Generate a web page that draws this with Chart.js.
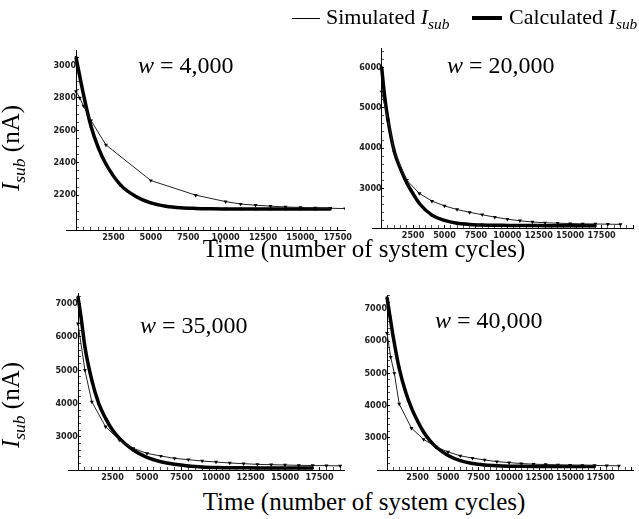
<!DOCTYPE html>
<html lang="en">
<head>
<meta charset="UTF-8">
<title>Isub vs time</title>
<script src="https://cdn.jsdelivr.net/npm/chart.js@4.4.0/dist/chart.umd.min.js"></script>
<style>
  body { margin: 0; background: #fff; }
  #fig { position: relative; width: 639px; height: 519px; overflow: hidden;
         font-family: "Liberation Serif", "Times New Roman", serif; color: #000; }
  #fig canvas { position: absolute; }
  .txt { position: absolute; white-space: nowrap; line-height: 24px; font-size: 24px; }
  .leg { position: absolute; white-space: nowrap; font-size: 22px; line-height: 22px; }
  .ylab { position: absolute; white-space: nowrap; font-size: 25px; line-height: 25px;
          transform: translate(-50%, -50%) rotate(-90deg); }
  .xlab { position: absolute; white-space: nowrap; font-size: 25px; line-height: 25px;
          transform: translateX(-50%); }
  i sub { font-size: 70%; }
</style>
</head>
<body>
<div id="fig">
  <canvas id="c1"></canvas>
  <canvas id="c2"></canvas>
  <canvas id="c3"></canvas>
  <canvas id="c4"></canvas>

  <div style="position:absolute;left:292px;top:18px;width:28px;height:1px;background:#000"></div>
  <div class="leg" style="left:326px;top:6px">Simulated <i>I<sub>sub</sub></i></div>
  <div style="position:absolute;left:472px;top:16px;width:30px;height:4px;background:#000"></div>
  <div class="leg" style="left:509px;top:6px">Calculated <i>I<sub>sub</sub></i></div>

  <div class="txt" style="left:138px;top:53px"><i>w</i> = 4,000</div>
  <div class="txt" style="left:447px;top:53px"><i>w</i> = 20,000</div>
  <div class="txt" style="left:140px;top:313px"><i>w</i> = 35,000</div>
  <div class="txt" style="left:435px;top:308px"><i>w</i> = 40,000</div>

  <div class="ylab" style="left:15px;top:148px"><i>I<sub>sub</sub></i> (nA)</div>
  <div class="ylab" style="left:15px;top:405px"><i>I<sub>sub</sub></i> (nA)</div>
  <div class="xlab" style="left:364px;top:236px">Time (number of system cycles)</div>
  <div class="xlab" style="left:364px;top:489px">Time (number of system cycles)</div>
</div>

<script>
// w = 4,000
const simX1 = [0, 250, 500, 1000, 2000, 5000, 8000, 10000, 11000, 12000, 13000, 14000, 15000, 16000, 17000, 18000];
const simY1 = [2840, 2800, 2750, 2660, 2510, 2290, 2200, 2160, 2145, 2138, 2132, 2127, 2124, 2121, 2119, 2117];
const calcX1 = [0, 500, 1000, 1500, 2000, 3000, 4000, 5000, 6000, 7000, 8000, 9000, 10000, 11000, 12000, 13000, 14000, 15000, 16000, 17000];
const calcY1 = [3050, 2820, 2625, 2490, 2392, 2260, 2192, 2152, 2132, 2122, 2118, 2116, 2115, 2115, 2114, 2114, 2114, 2114, 2114, 2114];

// w = 20,000
const simX2 = [0, 500, 1000, 2000, 3000, 4000, 5000, 6000, 7000, 8000, 9000, 10000, 11000, 12000, 13000, 14000, 15000, 16000, 17000, 18000, 19000];
const simY2 = [5400, 4700, 3900, 3200, 2870, 2680, 2560, 2470, 2400, 2340, 2280, 2230, 2190, 2160, 2140, 2130, 2120, 2115, 2110, 2105, 2100];
const calcX2 = [0, 250, 500, 1000, 1500, 2000, 2500, 3000, 4000, 5000, 6000, 7000, 8000, 9000, 10000, 11000, 12000, 13000, 14000, 15000, 16000, 17000];
const calcY2 = [6000, 5250, 4700, 3920, 3480, 3130, 2860, 2620, 2330, 2200, 2130, 2100, 2085, 2078, 2075, 2072, 2070, 2069, 2068, 2066, 2065, 2065];

// w = 35,000
const simX3 = [0, 500, 1000, 2000, 3000, 4000, 5000, 6000, 7000, 8000, 9000, 10000, 11000, 12000, 13000, 14000, 15000, 16000, 17000, 18000, 19000];
const simY3 = [6400, 5000, 4050, 3300, 2900, 2650, 2500, 2420, 2350, 2310, 2270, 2240, 2210, 2190, 2170, 2160, 2150, 2140, 2135, 2130, 2125];
const calcX3 = [0, 250, 500, 1000, 1500, 2000, 2500, 3000, 4000, 5000, 6000, 7000, 8000, 9000, 10000, 11000, 12000, 13000, 14000, 15000, 16000, 17000];
const calcY3 = [7200, 6500, 5700, 4700, 4000, 3550, 3200, 2950, 2600, 2380, 2250, 2170, 2120, 2090, 2075, 2068, 2065, 2062, 2060, 2059, 2058, 2058];

// w = 40,000
const simX4 = [0, 300, 600, 1000, 2000, 3000, 4000, 5000, 6000, 7000, 8000, 9000, 10000, 11000, 12000, 13000, 14000, 15000, 16000, 17000, 18000, 19000];
const simY4 = [6250, 5500, 5000, 4050, 3300, 2950, 2720, 2560, 2440, 2370, 2310, 2260, 2230, 2200, 2180, 2170, 2160, 2150, 2145, 2140, 2135, 2130];
const calcX4 = [0, 250, 500, 1000, 1500, 2000, 2500, 3000, 3500, 4000, 5000, 6000, 7000, 8000, 9000, 10000, 11000, 12000, 13000, 14000, 15000, 16000, 17000];
const calcY4 = [7350, 6750, 6150, 5150, 4450, 3930, 3520, 3180, 2920, 2720, 2450, 2290, 2200, 2155, 2132, 2120, 2115, 2112, 2111, 2110, 2109, 2108, 2108];

const xLabels = [2500, 5000, 7500, 10000, 12500, 15000, 17500];

const tickFont = { family: '"DejaVu Sans Condensed", "Liberation Sans Narrow", "DejaVu Sans", sans-serif', size: 9, weight: 'bold' };

function pts(xs, ys) {
  return xs.map((x, i) => ({ x: x, y: ys[i] }));
}

function stepTicks(min, max, step) {
  const out = [];
  for (let v = Math.ceil(min / step) * step; v <= max; v += step) out.push({ value: v });
  return out;
}

// p: chart area in page pixels + axis ranges
function panel(id, p) {
  const padL = 45, padT = 5, padR = 12, xh = 18;
  const el = document.getElementById(id);
  el.style.left = (p.L - padL) + 'px';
  el.style.top = (p.T - padT) + 'px';
  el.width = p.R - p.L + padL + padR;
  el.height = p.B - p.T + padT + xh;

  new Chart(el, {
    type: 'line',
    data: {
      datasets: [
        { label: 'Simulated', data: pts(p.simX, p.simY), borderColor: '#222', borderWidth: 1,
          pointStyle: 'triangle', rotation: 180, pointRadius: 2.3, pointBorderWidth: 0,
          pointBackgroundColor: '#000', tension: 0 },
        { label: 'Calculated', data: pts(p.calcX, p.calcY), borderColor: '#000', borderWidth: 3.5,
          pointStyle: 'rect', pointRadius: 1.8, pointBorderWidth: 0, pointBackgroundColor: '#000',
          cubicInterpolationMode: 'monotone' }
      ]
    },
    options: {
      responsive: false, animation: false, events: [],
      layout: { padding: { left: padL, top: padT, right: padR, bottom: 0 } },
      plugins: { legend: { display: false }, tooltip: { enabled: false } },
      scales: {
        x: {
          type: 'linear', position: 'bottom', min: p.xMin, max: p.xMax,
          afterBuildTicks: s => { s.ticks = stepTicks(0, p.xMax, 500); },
          afterFit: s => { s.height = xh; s.paddingLeft = 0; s.paddingRight = 0; },
          border: { color: '#000', width: 1 },
          // negative length: tick marks point into the plot
          grid: { drawOnChartArea: false, drawTicks: true, tickLength: -3,
                  tickColor: c => (c.tick && c.tick.value % 2500 === 0) ? '#000' : '#555' },
          ticks: { autoSkip: false, maxRotation: 0, padding: 5, font: tickFont, color: '#222',
                   callback: v => xLabels.includes(v) ? String(v) : '' }
        },
        y: {
          type: 'linear', position: { x: 0 }, min: p.yMin, max: p.yMax,
          afterBuildTicks: s => { s.ticks = stepTicks(p.yMin, p.yMax, p.yMinor); },
          afterFit: s => { s.paddingTop = 0; s.paddingBottom = 0; },
          border: { color: '#000', width: 1 },
          grid: { drawOnChartArea: false, drawTicks: true, tickLength: -3,
                  tickColor: c => (c.tick && p.yLabels.includes(c.tick.value)) ? '#000' : '#555' },
          ticks: { autoSkip: false, padding: 7, font: tickFont, color: '#222',
                   callback: v => p.yLabels.includes(v) ? String(v) : '' }
        }
      }
    }
  });
}

panel('c1', { L: 66, R: 345, T: 50, B: 230, xMin: -670, xMax: 17980, yMin: 1985, yMax: 3095,
  yMinor: 50, yLabels: [2200, 2400, 2600, 2800, 3000],
  simX: simX1, simY: simY1, calcX: calcX1, calcY: calcY1 });
panel('c2', { L: 372, R: 633, T: 48, B: 228, xMin: -770, xMax: 20000, yMin: 2010, yMax: 6490,
  yMinor: 200, yLabels: [3000, 4000, 5000, 6000],
  simX: simX2, simY: simY2, calcX: calcX2, calcY: calcY2 });
panel('c3', { L: 68, R: 344, T: 293, B: 470, xMin: -725, xMax: 19275, yMin: 2000, yMax: 7320,
  yMinor: 200, yLabels: [3000, 4000, 5000, 6000, 7000],
  simX: simX3, simY: simY3, calcX: calcX3, calcY: calcY3 });
panel('c4', { L: 377, R: 633, T: 295, B: 470, xMin: -820, xMax: 20150, yMin: 2000, yMax: 7430,
  yMinor: 200, yLabels: [3000, 4000, 5000, 6000, 7000],
  simX: simX4, simY: simY4, calcX: calcX4, calcY: calcY4 });
</script>
</body>
</html>
